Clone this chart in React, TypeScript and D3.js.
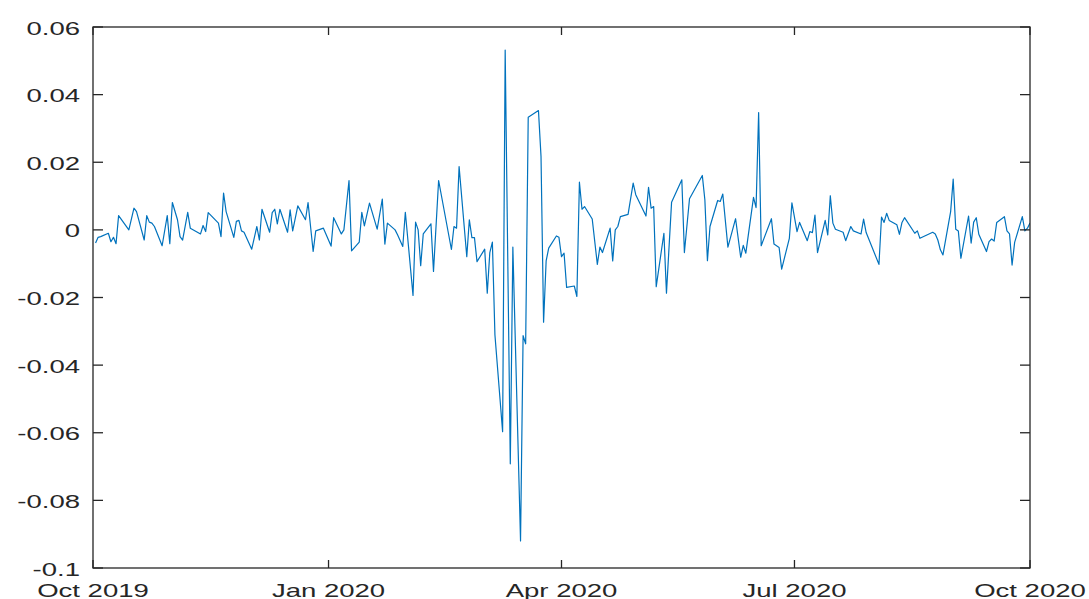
import React from "react";
import * as d3 from "d3";

const dates: string[] = [
  "2019-10-02","2019-10-03","2019-10-04","2019-10-07","2019-10-08","2019-10-09","2019-10-10","2019-10-11",
  "2019-10-15","2019-10-17","2019-10-18","2019-10-21","2019-10-22","2019-10-23","2019-10-24","2019-10-25",
  "2019-10-28","2019-10-30","2019-10-31","2019-11-01","2019-11-03","2019-11-04","2019-11-05","2019-11-07",
  "2019-11-08","2019-11-12","2019-11-13","2019-11-14","2019-11-15","2019-11-19","2019-11-20","2019-11-21",
  "2019-11-22","2019-11-25","2019-11-26","2019-11-27","2019-11-28","2019-11-29","2019-12-02","2019-12-04",
  "2019-12-05","2019-12-06","2019-12-09","2019-12-10","2019-12-11","2019-12-12","2019-12-13","2019-12-16",
  "2019-12-17","2019-12-18","2019-12-20","2019-12-23","2019-12-24","2019-12-26","2019-12-27","2019-12-30",
  "2020-01-02","2020-01-03","2020-01-06","2020-01-07","2020-01-09","2020-01-10","2020-01-13","2020-01-14",
  "2020-01-15","2020-01-17","2020-01-20","2020-01-22","2020-01-23","2020-01-24","2020-01-27","2020-01-28",
  "2020-01-30","2020-01-31","2020-02-03","2020-02-04","2020-02-05","2020-02-06","2020-02-07","2020-02-10",
  "2020-02-11","2020-02-13","2020-02-18","2020-02-19","2020-02-20","2020-02-21","2020-02-24","2020-02-25",
  "2020-02-26","2020-02-27","2020-02-28","2020-03-02","2020-03-03","2020-03-04","2020-03-05","2020-03-06",
  "2020-03-09","2020-03-10","2020-03-12","2020-03-13","2020-03-16","2020-03-17","2020-03-18","2020-03-19",
  "2020-03-23","2020-03-24","2020-03-25","2020-03-26","2020-03-27","2020-03-30","2020-03-31","2020-04-01",
  "2020-04-02","2020-04-03","2020-04-06","2020-04-07","2020-04-08","2020-04-09","2020-04-10","2020-04-13",
  "2020-04-15","2020-04-16","2020-04-17","2020-04-20","2020-04-21","2020-04-22","2020-04-23","2020-04-24",
  "2020-04-27","2020-04-29","2020-04-30","2020-05-04","2020-05-05","2020-05-06","2020-05-07","2020-05-08",
  "2020-05-11","2020-05-12","2020-05-14","2020-05-18","2020-05-19","2020-05-21","2020-05-26","2020-05-27",
  "2020-05-28","2020-05-29","2020-06-01","2020-06-02","2020-06-03","2020-06-05","2020-06-08","2020-06-10",
  "2020-06-11","2020-06-12","2020-06-15","2020-06-16","2020-06-17","2020-06-18","2020-06-22","2020-06-23",
  "2020-06-25","2020-06-26","2020-06-29","2020-06-30","2020-07-02","2020-07-03","2020-07-06","2020-07-07",
  "2020-07-08","2020-07-09","2020-07-10","2020-07-13","2020-07-14","2020-07-15","2020-07-16","2020-07-17",
  "2020-07-20","2020-07-21","2020-07-23","2020-07-24","2020-07-27","2020-07-28","2020-07-29","2020-08-03",
  "2020-08-04","2020-08-05","2020-08-06","2020-08-07","2020-08-10","2020-08-11","2020-08-12","2020-08-13",
  "2020-08-17","2020-08-18","2020-08-19","2020-08-24","2020-08-25","2020-08-26","2020-08-27","2020-08-28",
  "2020-08-31","2020-09-01","2020-09-02","2020-09-03","2020-09-04","2020-09-07","2020-09-08","2020-09-09",
  "2020-09-10","2020-09-11","2020-09-14","2020-09-15","2020-09-16","2020-09-17","2020-09-18","2020-09-21",
  "2020-09-22","2020-09-23","2020-09-24","2020-09-25","2020-09-28","2020-09-29","2020-09-30","2020-10-01",
];

const returns: number[] = [
  -0.0039,-0.0022,-0.0020,-0.0010,-0.0035,-0.0022,-0.0041,0.0042,
  0.0000,0.0064,0.0054,-0.0030,0.0042,0.0023,0.0020,0.0010,
  -0.0047,0.0042,-0.0041,0.0081,0.0030,-0.0020,-0.0030,0.0052,
  0.0005,-0.0012,0.0013,-0.0005,0.0051,0.0020,-0.0020,0.0109,
  0.0054,-0.0022,0.0025,0.0028,-0.0003,-0.0007,-0.0057,0.0010,
  -0.0030,0.0061,-0.0007,0.0051,0.0061,0.0018,0.0061,-0.0007,
  0.0059,-0.0003,0.0071,0.0030,0.0081,-0.0064,-0.0003,0.0005,
  -0.0048,0.0036,-0.0012,0.0000,0.0146,-0.0062,-0.0036,0.0052,
  0.0012,0.0079,0.0002,0.0091,-0.0042,0.0020,0.0000,-0.0015,
  -0.0049,0.0052,-0.0194,0.0023,0.0000,-0.0106,-0.0012,0.0018,
  -0.0123,0.0146,-0.0058,0.0010,0.0005,0.0187,-0.0079,0.0030,
  -0.0023,-0.0023,-0.0094,-0.0057,-0.0187,-0.0067,-0.0036,-0.0311,
  -0.0597,0.0532,-0.0692,-0.0051,-0.0920,-0.0313,-0.0337,0.0333,
  0.0353,0.0217,-0.0273,-0.0092,-0.0054,-0.0018,-0.0022,-0.0079,
  -0.0069,-0.0170,-0.0166,-0.0197,0.0141,0.0061,0.0069,0.0032,
  -0.0102,-0.0051,-0.0067,0.0005,-0.0092,0.0000,0.0010,0.0039,
  0.0046,0.0138,0.0104,0.0041,0.0126,0.0064,0.0069,-0.0168,
  -0.0010,-0.0187,0.0082,0.0148,-0.0067,0.0092,0.0161,0.0089,
  -0.0091,0.0010,0.0087,0.0084,0.0106,-0.0051,0.0033,-0.0081,
  -0.0046,-0.0069,0.0096,0.0066,0.0347,-0.0047,0.0033,-0.0042,
  -0.0052,-0.0116,-0.0025,0.0080,-0.0005,0.0022,-0.0032,-0.0005,
  -0.0008,0.0044,-0.0067,0.0028,-0.0015,0.0101,0.0020,0.0002,
  -0.0007,-0.0032,0.0010,-0.0003,-0.0012,0.0032,-0.0008,-0.0102,
  0.0038,0.0022,0.0049,0.0028,0.0015,-0.0013,0.0022,0.0036,
  -0.0010,-0.0003,-0.0025,-0.0007,-0.0012,-0.0030,-0.0059,-0.0074,
  0.0054,0.0150,0.0002,-0.0003,-0.0084,0.0041,-0.0039,0.0023,
  0.0036,-0.0013,-0.0064,-0.0035,-0.0027,-0.0033,0.0022,0.0039,
  -0.0003,-0.0012,-0.0104,-0.0037,0.0039,-0.0003,0.0005,0.0020,
];

const yTicks: number[] = [0.06, 0.04, 0.02, 0, -0.02, -0.04, -0.06, -0.08, -0.1];
const yTickLabels: string[] = ["0.06", "0.04", "0.02", "0", "-0.02", "-0.04", "-0.06", "-0.08", "-0.1"];
const xTickDates: string[] = ["2019-10-01", "2020-01-01", "2020-04-01", "2020-07-01", "2020-10-01"];
const xTickLabels: string[] = ["Oct 2019", "Jan 2020", "Apr 2020", "Jul 2020", "Oct 2020"];

const W = 1089;
const H = 599;
const left = 93;
const right = 1030;
const top = 27;
const bottom = 568;
const axisColor = "#262626";
const lineColor = "#0072BD";
const fontFamily = "'Liberation Sans', Arial, Helvetica, sans-serif";
const fontSize = 18.6;
const stretch = 1.48;

export default function App() {
  const parse = d3.timeParse("%Y-%m-%d");
  const x = d3
    .scaleTime()
    .domain([parse("2019-10-01") as Date, parse("2020-10-01") as Date])
    .range([left, right]);
  const y = d3.scaleLinear().domain([-0.1, 0.06]).range([bottom, top]);

  const data = dates.map((d, i) => ({ date: parse(d) as Date, v: returns[i] }));
  const line = d3
    .line<{ date: Date; v: number }>()
    .x((d) => x(d.date))
    .y((d) => y(d.v));

  return (
    <svg
      width={W}
      height={H}
      style={{ position: "absolute", left: 0, top: 0, background: "#fff" }}
    >
      <rect x={0} y={0} width={W} height={H} fill="#fff" />
      <defs>
        <clipPath id="plotclip">
          <rect x={left} y={top} width={right - left} height={bottom - top} />
        </clipPath>
      </defs>
      <path
        d={line(data) || ""}
        fill="none"
        stroke={lineColor}
        strokeWidth={1.2}
        strokeLinejoin="round"
        clipPath="url(#plotclip)"
      />
      {/* frame */}
      <rect
        x={left}
        y={top}
        width={right - left}
        height={bottom - top}
        fill="none"
        stroke={axisColor}
        strokeWidth={1.3}
      />
      {/* y ticks */}
      {yTicks.map((t, i) => (
        <g key={"yt" + i}>
          <line x1={left} x2={left + 10} y1={y(t)} y2={y(t)} stroke={axisColor} strokeWidth={1.3} />
          <line x1={right} x2={right - 10} y1={y(t)} y2={y(t)} stroke={axisColor} strokeWidth={1.3} />
          <g transform={`translate(80,${y(t) + 7.5}) scale(${stretch},1)`}>
            <text
              x={0}
              y={0}
              textAnchor="end"
              fontFamily={fontFamily}
              fontSize={fontSize}
              fill={axisColor}
            >
              {yTickLabels[i]}
            </text>
          </g>
        </g>
      ))}
      {/* x ticks */}
      {xTickDates.map((d, i) => {
        const px = x(parse(d) as Date);
        return (
          <g key={"xt" + i}>
            <line x1={px} x2={px} y1={bottom} y2={bottom - 8} stroke={axisColor} strokeWidth={1.3} />
            <line x1={px} x2={px} y1={top} y2={top + 8} stroke={axisColor} strokeWidth={1.3} />
            <g transform={`translate(${px},596.5) scale(${stretch},1)`}>
              <text
                x={0}
                y={0}
                textAnchor="middle"
                fontFamily={fontFamily}
                fontSize={fontSize}
                fill={axisColor}
              >
                {xTickLabels[i]}
              </text>
            </g>
          </g>
        );
      })}
    </svg>
  );
}
